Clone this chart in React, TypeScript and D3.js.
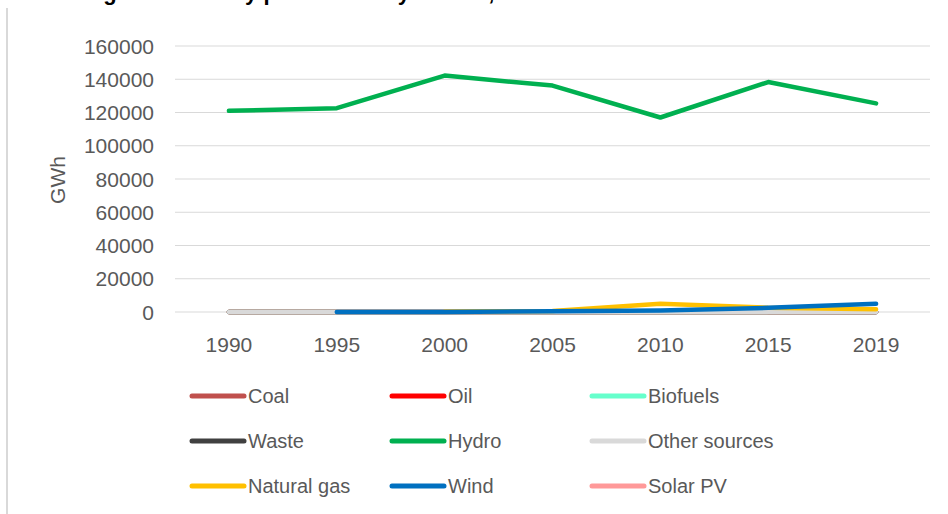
import React, {useEffect, useRef} from 'react'
import * as d3 from 'd3'

// Norway electricity production by source (GWh)
const years = ['1990', '1995', '2000', '2005', '2010', '2015', '2019']

const coal = [0, 0, 0, 0, 0, 0, 0]
const oil = [0, 0, 0, 0, 0, 0, 0]
const biofuels = [0, 0, 0, 0, 0, 0, 0]
const waste = [0, 0, 0, 0, 0, 0, 0]
const hydro = [121000, 122600, 142200, 136200, 117000, 138300, 125500]
const otherSources = [0, 0, 0, 0, 0, 0, 0]
const naturalGas = [null, null, 200, 600, 5000, 2600, 1700]
const wind = [null, 10, 30, 500, 900, 2500, 4900]
const solarPV = [null, null, null, null, null, 0, 0]

const tickValues = [0, 20000, 40000, 60000, 80000, 100000, 120000, 140000, 160000]

const series = [
  {name: 'Coal', color: '#c0504d', values: coal},
  {name: 'Oil', color: '#ff0000', values: oil},
  {name: 'Biofuels', color: '#66ffcc', values: biofuels},
  {name: 'Waste', color: '#404040', values: waste},
  {name: 'Hydro', color: '#00b050', values: hydro},
  {name: 'Other sources', color: '#d9d9d9', values: otherSources},
  {name: 'Natural gas', color: '#ffc000', values: naturalGas},
  {name: 'Wind', color: '#0070c0', values: wind},
  {name: 'Solar PV', color: '#ff9999', values: solarPV},
]

// solar first so it sits underneath, the rest in legend order
const drawOrder = ['Solar PV', 'Coal', 'Oil', 'Biofuels', 'Waste', 'Hydro', 'Other sources', 'Natural gas', 'Wind']

const font = '"Liberation Sans", Arial, sans-serif'

const App = () => {
  const ref = useRef<SVGSVGElement>(null)

  useEffect(() => {
    const width = 948
    const height = 514
    const svg = d3.select(ref.current)
    svg.selectAll('*').remove()
    svg.attr('width', width).attr('height', height)

    const x = d3.scalePoint().domain(years).range([175, 930]).padding(0.5)
    const y = d3.scaleLinear().domain([0, 160000]).range([312, 46])

    // chart area border (left edge only visible)
    svg.append('line')
      .attr('x1', 7).attr('x2', 7).attr('y1', 8).attr('y2', height)
      .attr('stroke', '#d9d9d9').attr('stroke-width', 2)

    // title, mostly cropped above the frame
    svg.append('text')
      .attr('x', 36).attr('y', 0)
      .attr('font-family', font).attr('font-weight', 'bold').attr('font-size', 22)
      .attr('fill', '#000')
      .text('Norwegian electricity production by source, 1990-2019')

    // gridlines
    svg.append('g')
      .selectAll('line')
      .data(tickValues)
      .join('line')
      .attr('x1', 175).attr('x2', 930)
      .attr('y1', d => y(d)).attr('y2', d => y(d))
      .attr('stroke', '#d9d9d9').attr('stroke-width', 1)

    // y tick labels
    svg.append('g')
      .attr('font-family', font).attr('font-size', 21).attr('fill', '#595959')
      .attr('text-anchor', 'end')
      .selectAll('text')
      .data(tickValues)
      .join('text')
      .attr('x', 154).attr('y', d => y(d))
      .attr('dy', '0.36em')
      .text(d => d3.format('d')(d))

    // x tick labels
    svg.append('g')
      .attr('font-family', font).attr('font-size', 21).attr('fill', '#595959')
      .attr('text-anchor', 'middle')
      .selectAll('text')
      .data(years)
      .join('text')
      .attr('x', d => x(d)!).attr('y', 352)
      .text(d => d)

    // y axis title
    svg.append('text')
      .attr('transform', `translate(65,180) rotate(-90)`)
      .attr('font-family', font).attr('font-size', 21).attr('fill', '#595959')
      .attr('text-anchor', 'middle')
      .text('GWh')

    const line = d3.line<number | null>()
      .defined(d => d != null)
      .x((d, i) => x(years[i])!)
      .y(d => y(d as number))

    const ordered = drawOrder.map(n => series.find(s => s.name === n)!)
    svg.append('g')
      .selectAll('path')
      .data(ordered)
      .join('path')
      .attr('d', d => line(d.values))
      .attr('fill', 'none')
      .attr('stroke', d => d.color)
      .attr('stroke-width', 4.5)
      .attr('stroke-linejoin', 'round')
      .attr('stroke-linecap', 'round')

    // legend, 3 columns
    const cols = [190, 390, 590]
    const rows = [396, 441, 486]
    const leg = svg.append('g')
      .selectAll('g')
      .data(series)
      .join('g')
      .attr('transform', (d, i) => `translate(${cols[i % 3]},${rows[Math.floor(i / 3)]})`)

    leg.append('line')
      .attr('x1', 2).attr('x2', 54).attr('y1', 0).attr('y2', 0)
      .attr('stroke', d => d.color).attr('stroke-width', 5)
      .attr('stroke-linecap', 'round')

    leg.append('text')
      .attr('x', 58).attr('dy', '0.36em')
      .attr('font-family', font).attr('font-size', 20).attr('fill', '#595959')
      .text(d => d.name)
  }, [])

  return <svg ref={ref} style={{position: 'absolute', left: 0, top: 0, background: '#fff'}} />
}

export default App
